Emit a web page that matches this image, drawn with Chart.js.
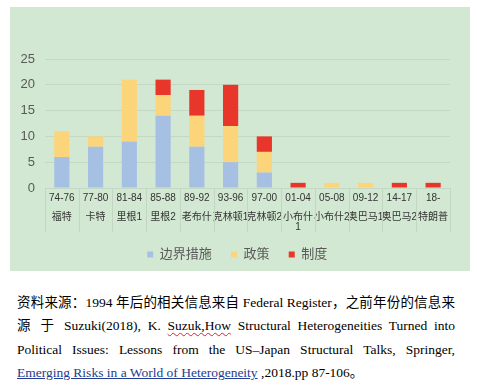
<!DOCTYPE html>
<html>
<head>
<meta charset="utf-8">
<script src="https://cdn.jsdelivr.net/npm/chart.js@4"></script>
<style>
  html, body { margin: 0; padding: 0; background: #ffffff; }
  body { width: 477px; height: 390px; position: relative; overflow: hidden; }
  #box { position: absolute; left: 10px; top: 7px; width: 460px; height: 264px; background: #d3e8d2; }
  #box canvas { display: block; }
  #src { position: absolute; left: 17px; top: 291px; width: 438px; font-family: "Liberation Serif", "Noto Sans CJK SC", serif; font-size: 13.5px; line-height: 23.4px; color: #000; }
  #src .ln { text-align: justify; text-align-last: justify; white-space: normal; }
  #src .last { text-align: left; text-align-last: left; }
  .wavy { text-decoration: underline wavy #d23; text-decoration-thickness: 1px; text-underline-offset: 2px; }
  .link { color: #233c93; text-decoration: underline; }
</style>
</head>
<body>
<div id="box"><canvas id="c" width="460" height="264"></canvas></div>
<div id="src">
  <div class="ln">资料来源：1994 年后的相关信息来自 Federal Register，之前年份的信息来</div>
  <div class="ln">源 于 Suzuki(2018), K. <span class="wavy">Suzuk,How</span> Structural Heterogeneities Turned into</div>
  <div class="ln">Political Issues: Lessons from the US–Japan Structural Talks, Springer,</div>
  <div class="ln last"><span class="link">Emerging Risks in a World of Heterogeneity</span> ,2018.pp 87-106。</div>
</div>
<script>
const periods = ['74-76','77-80','81-84','85-88','89-92','93-96','97-00','01-04','05-08','09-12','14-17','18-'];
const presidents = [['福特'],['卡特'],['里根1'],['里根2'],['老布什'],['克林顿1'],['克林顿2'],['小布什','1'],['小布什2'],['奥巴马1'],['奥巴马2'],['特朗普']];
const seriesNames = ['边界措施','政策','制度'];
const borderMeasures = [6,8,9,14,8,5,3,0,0,0,0,0];
const policy = [5,2,12,4,6,7,4,0,1,1,0,0];
const institution = [0,0,0,3,5,8,3,1,0,0,1,1];
const yTicks = [0,5,10,15,20,25];

Chart.defaults.font.family = "'Liberation Sans', 'Noto Sans CJK SC', sans-serif";

const separators = {
  id: 'separators',
  afterLayout(chart) {
    // nudge the legend row to sit where the reference legend is centred
    chart.legend.left += 7;
    chart.legend.right += 7;
  },
  afterDraw(chart) {
    const x = chart.scales.x, x2 = chart.scales.x2;
    const ctx = chart.ctx;
    ctx.save();
    ctx.strokeStyle = '#c2d6c1';
    ctx.lineWidth = 1;
    for (let i = 0; i <= periods.length; i++) {
      const px = Math.round(x.getPixelForValue(i - 0.5)) + 0.5;
      ctx.beginPath();
      ctx.moveTo(px, chart.chartArea.bottom);
      ctx.lineTo(px, x2.bottom - x2.options.ticks.padding);
      ctx.stroke();
    }
    ctx.restore();
  }
};

const defaultLegendLabels = Chart.defaults.plugins.legend.labels.generateLabels;

new Chart(document.getElementById('c'), {
  type: 'bar',
  data: {
    labels: periods,
    datasets: [
      { label: seriesNames[0], data: borderMeasures, backgroundColor: '#a6c0e4' },
      { label: seriesNames[1], data: policy, backgroundColor: '#fcd57b' },
      { label: seriesNames[2], data: institution, backgroundColor: '#e8372a' }
    ]
  },
  options: {
    responsive: false,
    animation: false,
    layout: { padding: { left: 0.5, right: 20, top: 52, bottom: 0 } },
    datasets: { bar: { categoryPercentage: 1, barPercentage: 0.45 } },
    plugins: {
      tooltip: { enabled: false },
      legend: {
        position: 'bottom',
        labels: {
          boxWidth: 6, boxHeight: 6, padding: 12,
          color: '#595959',
          font: { size: 13 },
          generateLabels(chart) {
            const items = defaultLegendLabels(chart);
            return items.map((it, i) => Object.assign(it, { text: i < items.length - 1 ? it.text + '  ' : it.text }));
          }
        }
      }
    },
    scales: {
      x: {
        stacked: true,
        offset: true,
        grid: { display: false, drawTicks: false, tickLength: 0 },
        border: { display: false },
        ticks: { color: '#333', font: { size: 10 }, padding: 4, maxRotation: 0, minRotation: 0, autoSkip: false }
      },
      x2: {
        type: 'category',
        position: 'bottom',
        offset: true,
        labels: presidents,
        grid: { display: false, drawTicks: false, tickLength: 0 },
        border: { display: false },
        ticks: { color: '#333', font: { size: 10, lineHeight: 1.0 }, padding: 4, maxRotation: 0, minRotation: 0, autoSkip: false }
      },
      y: {
        stacked: true,
        min: 0, max: 25,
        afterBuildTicks(scale) { scale.ticks = yTicks.map(v => ({ value: v })); },
        grid: { color: '#c4d9c3', drawTicks: false, tickLength: 0 },
        border: { display: false },
        ticks: { color: '#595959', font: { size: 13 }, padding: 10 }
      }
    }
  },
  plugins: [separators]
});
</script>
</body>
</html>
